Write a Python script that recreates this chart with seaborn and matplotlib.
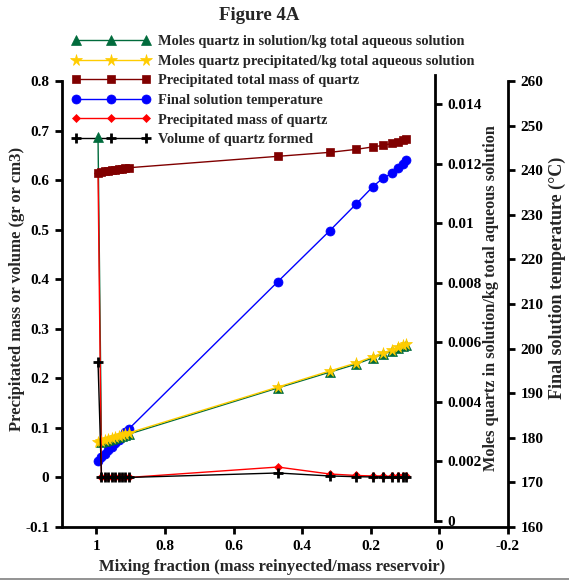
import matplotlib
matplotlib.use('Agg')
import matplotlib.pyplot as plt
import seaborn as sns
from matplotlib.lines import Line2D

# ---------------- data ----------------
mixing_fraction = [0.995, 0.985, 0.975, 0.965, 0.955, 0.945, 0.935, 0.925, 0.915, 0.905,
                   0.471, 0.320, 0.243, 0.194, 0.165, 0.138, 0.121, 0.106, 0.096]
moles_in_solution = [0.0129, 0.00265, 0.00268, 0.00271, 0.00274, 0.00278, 0.00281, 0.00285, 0.00288, 0.00292,
                     0.00447, 0.00500, 0.00527, 0.00548, 0.00561, 0.00571, 0.00580, 0.00587, 0.00590]
moles_precipitated = [0.00266, 0.00269, 0.00272, 0.00276, 0.00279, 0.00283, 0.00286, 0.00290, 0.00293, 0.00296,
                      0.00450, 0.00504, 0.00531, 0.00552, 0.00565, 0.00575, 0.00585, 0.00592, 0.00596]
total_mass = [0.615, 0.617, 0.618, 0.619, 0.620, 0.621, 0.622, 0.623, 0.624, 0.625,
              0.648, 0.656, 0.662, 0.667, 0.670, 0.674, 0.677, 0.680, 0.682]
temperature = [174.8, 175.6, 176.4, 177.2, 178.0, 178.8, 179.6, 180.4, 181.2, 182.0,
               215.0, 226.4, 232.4, 236.3, 238.2, 239.3, 240.4, 241.5, 242.3]
precip_mass = [0.614, 0, 0, 0, 0, 0, 0, 0, 0, 0,
               0.021, 0.007, 0.004, 0.003, 0.003, 0.002, 0.002, 0.002, 0.002]
volume = [0.233, 0, 0, 0, 0, 0, 0, 0, 0, 0,
          0.009, 0.003, 0.0015, 0.001, 0.001, 0.001, 0.001, 0.001, 0.001]

labels = ["Moles quartz in solution/kg total aqueous solution",
          "Moles quartz precipitated/kg total aqueous solution",
          "Precipitated total mass of quartz",
          "Final solution temperature",
          "Precipitated mass of quartz",
          "Volume of quartz formed"]

x_ticks = [1, 0.8, 0.6, 0.4, 0.2, 0, -0.2]
x_ticklabels = ["1", "0.8", "0.6", "0.4", "0.2", "0", "-0.2"]
left_ticks = [-0.1, 0, 0.1, 0.2, 0.3, 0.4, 0.5, 0.6, 0.7, 0.8]
left_ticklabels = ["-0.1", "0", "0.1", "0.2", "0.3", "0.4", "0.5", "0.6", "0.7", "0.8"]
moles_ticks = [0, 0.002, 0.004, 0.006, 0.008, 0.01, 0.012, 0.014]
moles_ticklabels = ["0", "0.002", "0.004", "0.006", "0.008", "0.01", "0.012", "0.014"]
temp_ticks = [160, 170, 180, 190, 200, 210, 220, 230, 240, 250, 260]

# ---------------- style ----------------
sns.set_theme(style='white')
plt.rcParams['font.family'] = ['Liberation Serif', 'DejaVu Serif']
plt.rcParams['font.weight'] = 'bold'
plt.rcParams['axes.labelweight'] = 'bold'
plt.rcParams['axes.titleweight'] = 'bold'

GREEN = '#006B3C'
YELLOW = '#FFCC00'
DARKRED = '#800000'
BLUE = '#0000FF'
RED = '#FF0000'
BLACK = '#000000'

TICK_FS = 11
LABEL_FS = 12

W, H = 569, 581
fig = plt.figure(figsize=(W / 100, H / 100), dpi=100)
fig.patch.set_facecolor('white')


def rect(l, t, r, b):
    return [l / W, 1 - b / H, (r - l) / W, (b - t) / H]


ax_t = fig.add_axes(rect(62, 81, 508, 527))      # temperature axis
ax_m = fig.add_axes(rect(62, 74.6, 508, 521))    # moles axis
ax = fig.add_axes(rect(62, 81, 508, 527))        # main axis
ax_t.set_zorder(1)
ax_m.set_zorder(2)
ax.set_zorder(3)
for a in (ax, ax_m, ax_t):
    a.patch.set_visible(False)
    a.set_xlim(1.1, -0.2)
    for s in a.spines.values():
        s.set_visible(False)
        s.set_linewidth(2)
        s.set_color('black')

lw = 1.0
# moles axis series
sns.lineplot(x=mixing_fraction, y=moles_in_solution, ax=ax_m, sort=False, estimator=None,
             color=GREEN, marker='^', markersize=6.5, markeredgecolor=GREEN, markeredgewidth=0.5,
             linewidth=lw, label=labels[0], legend=False)
sns.lineplot(x=mixing_fraction, y=moles_precipitated, ax=ax_m, sort=False, estimator=None,
             color=YELLOW, marker='*', markersize=8.5, markeredgecolor=YELLOW, markeredgewidth=0.5,
             linewidth=lw, label=labels[1], legend=False)
# temperature
sns.lineplot(x=mixing_fraction, y=temperature, ax=ax_t, sort=False, estimator=None,
             color=BLUE, marker='o', markersize=6.5, markeredgecolor=BLUE, markeredgewidth=0.5,
             linewidth=lw, label=labels[3], legend=False)
# main axis (red and black first, dark red squares on top)
sns.lineplot(x=mixing_fraction, y=precip_mass, ax=ax, sort=False, estimator=None,
             color=RED, marker='D', markersize=4.5, markeredgecolor=RED, markeredgewidth=0.5,
             linewidth=lw, label=labels[4], legend=False)
sns.lineplot(x=mixing_fraction, y=volume, ax=ax, sort=False, estimator=None,
             color=BLACK, marker='+', markersize=7, markeredgecolor=BLACK, markeredgewidth=2,
             linewidth=lw, label=labels[5], legend=False)
sns.lineplot(x=mixing_fraction, y=total_mass, ax=ax, sort=False, estimator=None,
             color=DARKRED, marker='s', markersize=6, markeredgecolor=DARKRED, markeredgewidth=0.5,
             linewidth=lw, label=labels[2], legend=False)

# ---- main axis ----
ax.set_ylim(-0.1, 0.8)
ax.spines['left'].set_visible(True)
ax.spines['bottom'].set_visible(True)
ax.set_xticks(x_ticks)
ax.set_xticklabels(x_ticklabels)
ax.set_yticks(left_ticks)
ax.set_yticklabels(left_ticklabels)
ax.tick_params(axis='both', which='major', direction='out', length=5, width=2,
               labelsize=TICK_FS, pad=4, left=True, bottom=True, right=False, top=False,
               colors='black')
ax.set_xlabel('Mixing fraction (mass reinyected/mass reservoir)', fontsize=LABEL_FS, fontweight='bold')
ax.set_ylabel('Precipitated mass or volume (gr or cm3)', fontsize=LABEL_FS, fontweight='bold')
ax.yaxis.set_label_coords((17 - 62) / 446, (527 - 289) / 446)
ax.xaxis.set_label_coords((272 - 62) / 446, -(567 - 527) / 446)
ax.xaxis.label.set_va('center')
ax.yaxis.label.set_va('center')

# ---- moles axis ----
ax_m.set_ylim(0, 0.015)
ax_m.spines['right'].set_visible(True)
ax_m.spines['right'].set_position(('axes', (435 - 62) / 446))
ax_m.yaxis.set_label_position('right')
ax_m.yaxis.tick_right()
ax_m.set_yticks(moles_ticks)
ax_m.set_yticklabels(moles_ticklabels)
ax_m.set_xticks([])
ax_m.tick_params(axis='y', direction='out', length=5, width=2, labelsize=TICK_FS, pad=4,
                 right=True, left=False, colors='black')
ax_m.set_xlabel('')
ax_m.set_ylabel('Moles quartz in solution/kg total aqueous solution', fontsize=11.7, fontweight='bold')
ax_m.yaxis.set_label_coords((491 - 62) / 446, (521 - 298) / (521 - 74.6))
ax_m.yaxis.label.set_va('center')

# ---- temperature axis ----
ax_t.set_ylim(160, 260)
ax_t.spines['right'].set_visible(True)
ax_t.yaxis.set_label_position('right')
ax_t.yaxis.tick_right()
ax_t.set_yticks(temp_ticks)
ax_t.set_xticks([])
ax_t.tick_params(axis='y', direction='out', length=5, width=2, labelsize=TICK_FS, pad=4,
                 right=True, left=False, colors='black')
ax_t.set_xlabel('')
ax_t.set_ylabel('Final solution temperature (\u00b0C)', fontsize=13, fontweight='bold')
ax_t.yaxis.set_label_coords((557 - 62) / 446, (527 - 278) / 446)
ax_t.yaxis.label.set_va('center')

# ---- legend (drawn beneath data) ----
hm, lm = ax_m.get_legend_handles_labels()
hx, lx = ax.get_legend_handles_labels()
ht, lt = ax_t.get_legend_handles_labels()
handles = [hm[0], hm[1], hx[2], ht[0], hx[0], hx[1]]
leg_labels = [lm[0], lm[1], lx[2], lt[0], lx[0], lx[1]]
ax_t.legend(handles, leg_labels, loc='upper left', bbox_to_anchor=(72 / W, 1 - 35 / H),
            bbox_transform=fig.transFigure, frameon=False, numpoints=3,
            handlelength=5.4, handletextpad=0.55, labelspacing=0.45, borderpad=0,
            borderaxespad=0, prop={'weight': 'bold', 'size': 10.4})

fig.text(259 / W, 1 - 15 / H, 'Figure 4A', ha='center', va='center', fontsize=13.5, fontweight='bold')
fig.add_artist(Line2D([0, 1], [1 - 579 / H, 1 - 579 / H], transform=fig.transFigure,
                      color='#808080', linewidth=1.2))

fig.savefig('out.png', dpi=100, facecolor='white')
